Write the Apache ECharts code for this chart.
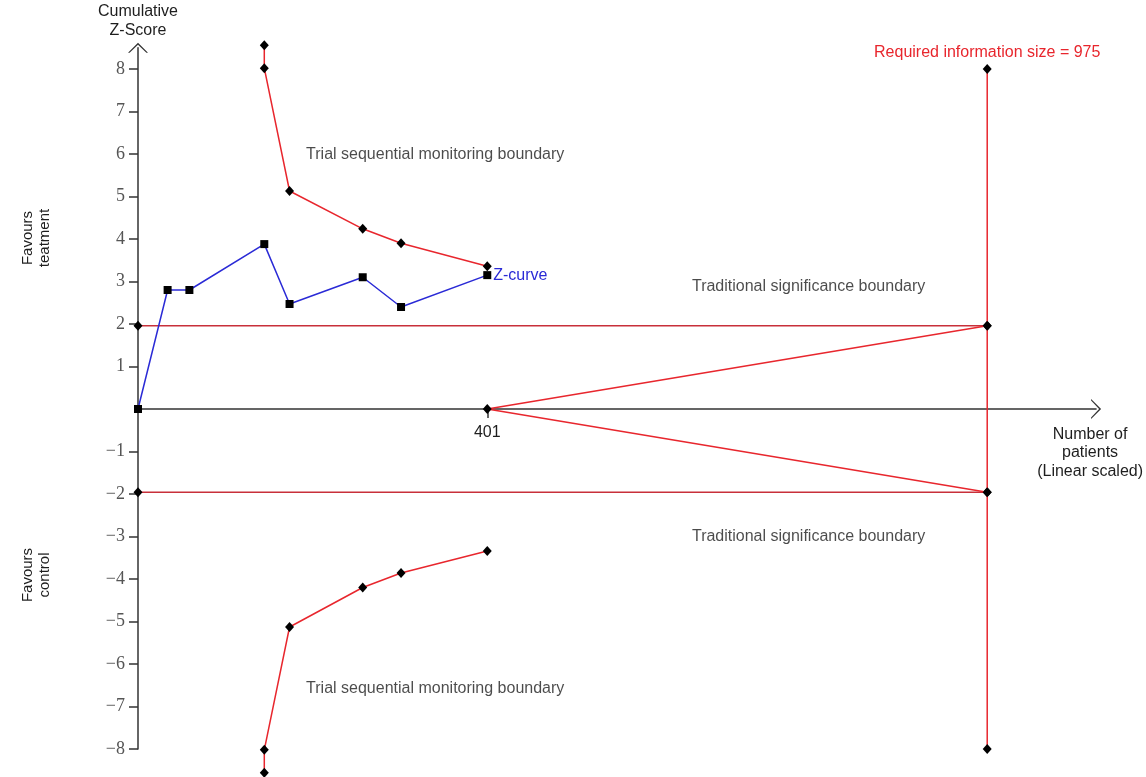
<!DOCTYPE html>
<html>
<head>
<meta charset="utf-8">
<title>Trial sequential analysis</title>
<script src="https://cdn.jsdelivr.net/npm/echarts@6/dist/echarts.min.js"></script>
<style>
  html, body { margin: 0; padding: 0; background: #fff; }
  #main { width: 1146px; height: 777px; }
</style>
</head>
<body>
<div id="main"></div>
<script>
// 累计 Z 曲线
const zX = [0, 34, 59, 145, 174, 258, 302, 401];
const zY = [0, 2.8, 2.8, 3.88, 2.47, 3.1, 2.4, 3.15];

// 试验序贯监测界值
const bndX = [145, 145, 174, 258, 302, 401];
const upperBnd = [8.56, 8.02, 5.13, 4.24, 3.9, 3.36];
const lowerBnd = [-8.56, -8.02, -5.13, -4.2, -3.86, -3.34];

// 传统界值 ±1.96, 所需信息量 975
const tradZ = 1.96;
const risX = 975;
const risY = [-8, 8];
const wedgeX = [975, 401, 975];
const wedgeY = [1.96, 0, -1.96];

const yTicks = [-8, -7, -6, -5, -4, -3, -2, -1, 1, 2, 3, 4, 5, 6, 7, 8];
const xTicks = [401];

// 图中文字
const noteText = ['Trial sequential monitoring boundary', 'Trial sequential monitoring boundary',
  'Traditional significance boundary', 'Traditional significance boundary'];
const noteX = [193, 193, 636, 636];
const noteY = [5.98, -6.59, 2.87, -3.01];

const RED = '#e8262d';
const DARKRED = '#c8303a';
const BLUE = '#2a2ad6';
const AXIS = '#333333';
const INK = '#1e1e1e';
const FONT = '"Liberation Sans", Arial, sans-serif';
const chevron = 'path://M0,10 L10,0 L20,10 L18.4,10 L10,2 L1.6,10 Z';

const pairs = (xs, ys) => xs.map((x, i) => [x, ys[i]]);

const diamond = { symbol: 'diamond', symbolSize: [9, 10], itemStyle: { color: '#000' } };

const myChart = echarts.init(document.getElementById('main'));

myChart.setOption({
  animation: false,
  textStyle: { fontFamily: FONT },
  grid: { left: 138, right: 47, top: 47.75, bottom: 28 },
  xAxis: {
    type: 'value',
    min: 0,
    max: 1100,
    splitLine: { show: false },
    axisLine: {
      onZero: true,
      lineStyle: { color: AXIS, width: 1.5 },
      symbol: ['none', chevron],
      symbolSize: [20, 10]
    },
    axisTick: { show: true, customValues: xTicks, length: 9, lineStyle: { color: AXIS, width: 1.5 } },
    axisLabel: { show: false },
    name: 'Number of\npatients\n(Linear scaled)',
    nameLocation: 'end',
    nameGap: -6,
    nameTextStyle: {
      align: 'center', verticalAlign: 'top', color: INK, fontSize: 16,
      lineHeight: 18.5, padding: [16, 0, 0, 0], fontFamily: FONT
    }
  },
  yAxis: {
    type: 'value',
    min: -8,
    max: 8.5,
    splitLine: { show: false },
    axisLine: {
      lineStyle: { color: AXIS, width: 1.5 },
      symbol: ['none', chevron],
      symbolSize: [20, 10]
    },
    axisTick: { show: true, customValues: yTicks, length: 9, lineStyle: { color: AXIS, width: 1.5 } },
    axisLabel: {
      customValues: yTicks,
      color: '#555',
      fontSize: 18,
      margin: 13,
      fontFamily: '"Liberation Serif", "DejaVu Serif", serif',
      formatter: v => (v < 0 ? '\u2212' + Math.abs(v) : String(v))
    },
    name: 'Cumulative\nZ-Score',
    nameLocation: 'end',
    nameGap: 8,
    nameTextStyle: {
      align: 'center', verticalAlign: 'bottom', color: INK, fontSize: 16,
      lineHeight: 19, fontFamily: FONT
    }
  },
  graphic: [
    {
      type: 'text', x: 36, y: 238, rotation: Math.PI / 2,
      style: { text: 'Favours\nteatment', font: '15px ' + FONT, fill: INK, align: 'center', verticalAlign: 'middle', lineHeight: 17 }
    },
    {
      type: 'text', x: 36, y: 575, rotation: Math.PI / 2,
      style: { text: 'Favours\ncontrol', font: '15px ' + FONT, fill: INK, align: 'center', verticalAlign: 'middle', lineHeight: 17 }
    }
  ],
  series: [
    {
      name: 'upper traditional',
      type: 'line',
      data: [[0, tradZ], [risX, tradZ]],
      lineStyle: { color: DARKRED, width: 1.5 },
      ...diamond,
      clip: false,
      z: 2
    },
    {
      name: 'lower traditional',
      type: 'line',
      data: [[0, -tradZ], [risX, -tradZ]],
      lineStyle: { color: DARKRED, width: 1.5 },
      ...diamond,
      clip: false,
      z: 2
    },
    {
      name: 'wedge',
      type: 'line',
      data: pairs(wedgeX, wedgeY),
      lineStyle: { color: RED, width: 1.5 },
      ...diamond,
      clip: false,
      z: 3,
      label: {
        show: true,
        position: 'bottom',
        distance: 11,
        color: INK,
        fontSize: 16,
        fontFamily: FONT,
        formatter: p => (p.dataIndex === 1 ? String(xTicks[0]) : '')
      }
    },
    {
      name: 'RIS',
      type: 'line',
      data: risY.map(y => [risX, y]),
      lineStyle: { color: RED, width: 1.5 },
      ...diamond,
      clip: false,
      z: 3,
      label: {
        show: true,
        position: 'top',
        distance: 3,
        color: RED,
        fontSize: 16,
        fontFamily: FONT,
        formatter: p => (p.dataIndex === 1 ? 'Required information size = ' + risX : '')
      }
    },
    {
      name: 'upper TSMB',
      type: 'line',
      data: pairs(bndX, upperBnd),
      lineStyle: { color: RED, width: 1.5 },
      ...diamond,
      clip: false,
      z: 3
    },
    {
      name: 'lower TSMB',
      type: 'line',
      data: pairs(bndX, lowerBnd),
      lineStyle: { color: RED, width: 1.5 },
      ...diamond,
      clip: false,
      z: 3
    },
    {
      name: 'Z-curve',
      type: 'line',
      data: pairs(zX, zY),
      lineStyle: { color: BLUE, width: 1.5 },
      symbol: 'rect',
      symbolSize: 8,
      itemStyle: { color: '#000' },
      clip: false,
      z: 5,
      label: {
        show: true,
        position: 'right',
        distance: 2,
        color: BLUE,
        fontSize: 16,
        fontFamily: FONT,
        formatter: p => (p.dataIndex === zX.length - 1 ? 'Z-curve' : '')
      }
    },
    {
      name: 'notes',
      type: 'scatter',
      symbolSize: 0,
      silent: true,
      data: noteText.map((t, i) => ({ name: t, value: [noteX[i], noteY[i]] })),
      label: {
        show: true,
        position: 'right',
        distance: 0,
        color: INK,
        fontSize: 16,
        fontFamily: FONT,
        formatter: '{b}'
      }
    }
  ]
});
</script>
</body>
</html>
